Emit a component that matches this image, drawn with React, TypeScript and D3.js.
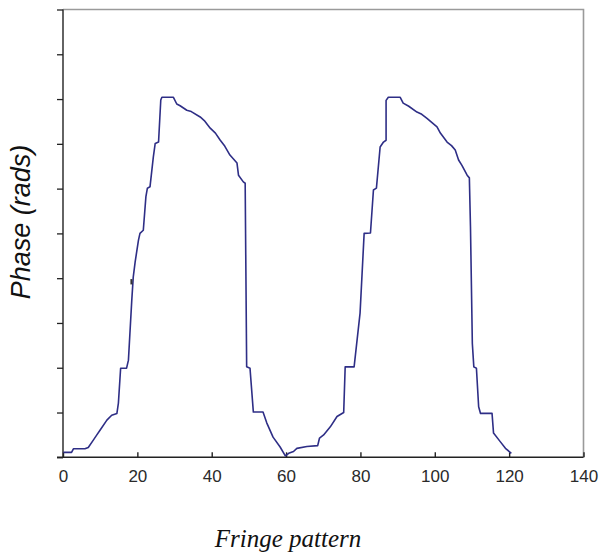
import React, { useEffect, useRef } from "react";
import * as d3 from "d3";

// fringe pattern position (x) and unwrapped phase (y)
const fringeX = [
  0.1, 2.3, 2.8, 5.9, 6.8, 8.2, 9.1, 10.0, 11.8, 13.1, 14.5, 14.9, 15.5, 17.1, 17.6, 18.0,
  18.5, 18.9, 19.4, 20.3, 20.7, 21.6, 22.3, 22.7, 23.4, 24.3, 24.8, 25.7, 26.3, 26.6, 29.7,
  30.6, 31.5, 33.3, 34.5, 36.9, 38.0, 39.6, 41.0, 42.3, 43.5, 44.9, 46.8, 47.2, 48.5, 49.0,
  49.4, 50.3, 51.2, 53.8, 54.8, 56.5, 58.4, 59.8, 60.7, 62.0, 62.9, 65.6, 68.5, 69.0, 70.1,
  71.9, 73.7, 75.5, 75.9, 78.3, 79.9, 81.0, 82.7, 83.5, 84.3, 85.3, 86.2, 86.9, 86.9, 87.5,
  90.7, 91.5, 93.0, 95.2, 96.5, 97.9, 100.6, 101.5, 103.3, 104.5, 105.5, 106.4, 107.3, 108.7,
  109.3, 109.6, 110.1, 110.5, 111.2, 111.8, 112.3, 115.4, 115.8, 117.6, 119.0, 120.6,
];
const phase = [
  0.11, 0.11, 0.19, 0.19, 0.22, 0.39, 0.5, 0.61, 0.83, 0.94, 0.98, 1.21, 1.99, 1.99, 2.17, 2.77,
  3.51, 4.03, 4.36, 4.85, 5.0, 5.07, 5.82, 6.01, 6.04, 6.71, 7.01, 7.04, 7.98, 8.04, 8.04,
  7.89, 7.85, 7.75, 7.72, 7.6, 7.52, 7.35, 7.24, 7.08, 6.95, 6.75, 6.57, 6.3, 6.15, 6.12,
  2.02, 1.99, 1.01, 1.01, 0.77, 0.45, 0.23, 0.03, 0.09, 0.13, 0.2, 0.24, 0.26, 0.43, 0.5,
  0.68, 0.91, 1.0, 2.02, 2.02, 3.22, 5.0, 5.01, 5.97, 6.01, 6.93, 7.04, 7.08, 7.97, 8.04,
  8.04, 7.91, 7.84, 7.71, 7.66, 7.57, 7.38, 7.24, 7.04, 6.96, 6.86, 6.64, 6.52, 6.3,
  6.24, 5.15, 2.54, 2.02, 1.99, 1.13, 0.98, 0.98, 0.54, 0.35, 0.2, 0.09,
];
// small stray mark left of the first rise
const strayX = [18.4, 18.4];
const strayY = [3.86, 3.98];

const xTicks = [0, 20, 40, 60, 80, 100, 120, 140];
const yTicks = [0, 1, 2, 3, 4, 5, 6, 7, 8, 9, 10];

const App = () => {
  const svgRef = useRef<SVGSVGElement | null>(null);

  useEffect(() => {
    if (svgRef.current) {
      drawChart();
    }
  }, []);

  const drawChart = () => {
    const svg = d3.select(svgRef.current);
    svg.selectAll("*").remove();

    const left = 63;
    const right = 583.5;
    const top = 9.5;
    const bottom = 457.3;

    const x = d3.scaleLinear().domain([0, 140]).range([left, right]);
    const y = d3.scaleLinear().domain([0, 10]).range([bottom, top]);

    svg.append("rect").attr("width", 604).attr("height", 553).attr("fill", "#fff");

    // top and right frame (grey)
    svg
      .append("path")
      .attr("d", `M${left},${top}H${right}V${bottom}`)
      .attr("fill", "none")
      .attr("stroke", "#9a9a9a")
      .attr("stroke-width", 1.6);

    // y axis, ticks outside, no labels
    const yAxis = svg
      .append("g")
      .attr("transform", `translate(${left},0)`)
      .call(d3.axisLeft(y).tickValues(yTicks).tickSize(6).tickFormat(() => ""));
    yAxis.select(".domain").remove();
    yAxis.selectAll("line").attr("stroke", "#222").attr("stroke-width", 1.3);
    svg
      .append("line")
      .attr("x1", left)
      .attr("x2", left)
      .attr("y1", top)
      .attr("y2", bottom)
      .attr("stroke", "#222")
      .attr("stroke-width", 1.4);

    // x axis, ticks inward
    const xAxis = svg
      .append("g")
      .attr("transform", `translate(0,${bottom})`)
      .call(d3.axisBottom(x).tickValues(xTicks).tickSize(-5).tickPadding(13));
    xAxis.select(".domain").remove();
    xAxis.selectAll("line").attr("stroke", "#222").attr("stroke-width", 1.4);
    xAxis
      .selectAll("text")
      .attr("fill", "#2a2a2a")
      .attr("font-family", "Liberation Sans, Arial, sans-serif")
      .attr("font-size", 17);
    svg
      .append("line")
      .attr("x1", left - 6)
      .attr("x2", right)
      .attr("y1", bottom)
      .attr("y2", bottom)
      .attr("stroke", "#222")
      .attr("stroke-width", 1.4);

    const pts: [number, number][] = fringeX.map((d, i) => [d, phase[i]]);
    const line = d3
      .line<[number, number]>()
      .x((d) => x(d[0]))
      .y((d) => y(d[1]));

    svg
      .append("path")
      .datum(pts)
      .attr("d", line)
      .attr("fill", "none")
      .attr("stroke", "#2e2e86")
      .attr("stroke-width", 1.6)
      .attr("stroke-linejoin", "round");

    const stray: [number, number][] = strayX.map((d, i) => [d, strayY[i]]);
    svg
      .append("path")
      .datum(stray)
      .attr("d", line)
      .attr("stroke", "#333")
      .attr("stroke-width", 2);

    // axis titles
    svg
      .append("text")
      .attr("transform", `translate(30,222) rotate(-90)`)
      .attr("text-anchor", "middle")
      .attr("font-family", "Liberation Sans, Arial, sans-serif")
      .attr("font-style", "italic")
      .attr("font-size", 27)
      .attr("fill", "#111")
      .text("Phase (rads)");

    svg
      .append("text")
      .attr("x", 288)
      .attr("y", 547)
      .attr("text-anchor", "middle")
      .attr("font-family", "Liberation Serif, Times New Roman, serif")
      .attr("font-style", "italic")
      .attr("font-size", 25)
      .attr("fill", "#111")
      .text("Fringe pattern");
  };

  return (
    <div style={{ position: "absolute", left: 0, top: 0 }}>
      <svg ref={svgRef} width={604} height={553} style={{ display: "block" }}></svg>
    </div>
  );
};

export default App;
